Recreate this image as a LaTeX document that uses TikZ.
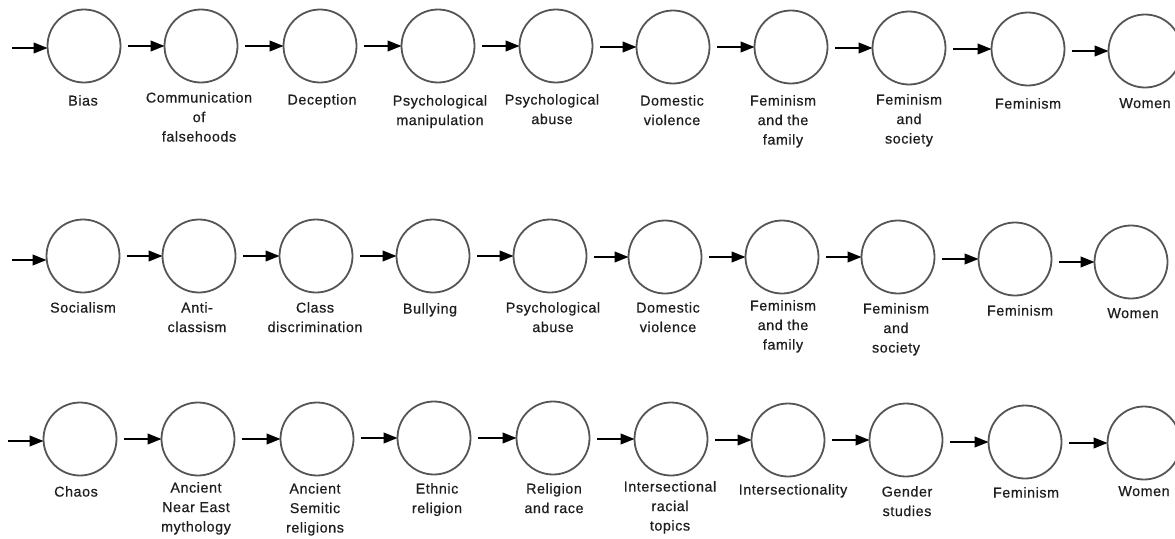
\documentclass[tikz,border=0pt]{standalone}
\usepackage{fontspec}
\setmainfont{Liberation Sans}
\usetikzlibrary{arrows.meta}
\definecolor{ringgray}{HTML}{555555}
\definecolor{txtgray}{HTML}{1E1E1E}
\tikzset{
  ring/.style={circle, draw=ringgray, line width=1.8pt, minimum size=73pt, inner sep=0pt},
  lbl/.style={anchor=north, align=center, inner sep=0pt, text=txtgray,
    font=\fontsize{14.3pt}{19.5pt}\selectfont\addfontfeatures{LetterSpace=4,FakeBold=0.6}},
  arr/.style={draw=black, line width=2.3pt, -{Triangle[length=14pt,width=10.5pt]}, shorten >=-1pt},
}
\begin{document}
\begin{tikzpicture}[x=1pt,y=-1pt]
\useasboundingbox (0,0) rectangle (1175,538);
% row 1
\node[ring] (a1) at (84,46) {};
\node[ring] (a2) at (201,46) {};
\node[ring] (a3) at (320,46) {};
\node[ring] (a4) at (438,46) {};
\node[ring] (a5) at (556,46) {};
\node[ring] (a6) at (673,47) {};
\node[ring] (a7) at (791,47) {};
\node[ring] (a8) at (909,48) {};
\node[ring] (a9) at (1028,49) {};
\node[ring] (a10) at (1145,51) {};
\node[lbl] (la1) at (83,95) {Bias};
\node[lbl] (la2) at (199,92) {Communication\\of\\falsehoods};
\node[lbl] (la3) at (322,94) {Deception};
\node[lbl] (la4) at (440,95) {Psychological\\manipulation};
\node[lbl] (la5) at (552,94) {Psychological\\abuse};
\node[lbl] (la6) at (672,95) {Domestic\\violence};
\node[lbl] (la7) at (783,95) {Feminism\\and the\\family};
\node[lbl] (la8) at (909,94) {Feminism\\and\\society};
\node[lbl] (la9) at (1028,98) {Feminism};
\node[lbl] (la10) at (1145,98) {Women};
\coordinate (sa) at (12,48);
% row 2
\node[ring] (b1) at (83,256) {};
\node[ring] (b2) at (199,256) {};
\node[ring] (b3) at (316,256) {};
\node[ring] (b4) at (433,256) {};
\node[ring] (b5) at (550,256) {};
\node[ring] (b6) at (665,257) {};
\node[ring] (b7) at (782,257) {};
\node[ring] (b8) at (898,257) {};
\node[ring] (b9) at (1015,259) {};
\node[ring] (b10) at (1131,262) {};
\node[lbl] (lb1) at (83,302) {Socialism};
\node[lbl] (lb2) at (197,302) {Anti-\\classism};
\node[lbl] (lb3) at (315,302) {Class\\discrimination};
\node[lbl] (lb4) at (430,303) {Bullying};
\node[lbl] (lb5) at (553,302) {Psychological\\abuse};
\node[lbl] (lb6) at (668,302) {Domestic\\violence};
\node[lbl] (lb7) at (783,300) {Feminism\\and the\\family};
\node[lbl] (lb8) at (896,303) {Feminism\\and\\society};
\node[lbl] (lb9) at (1020,305) {Feminism};
\node[lbl] (lb10) at (1133,308) {Women};
\coordinate (sb) at (12,260);
% row 3
\node[ring] (c1) at (80,439) {};
\node[ring] (c2) at (198,439) {};
\node[ring] (c3) at (317,439) {};
\node[ring] (c4) at (434,438) {};
\node[ring] (c5) at (553,438) {};
\node[ring] (c6) at (671,439) {};
\node[ring] (c7) at (788,440) {};
\node[ring] (c8) at (906,440) {};
\node[ring] (c9) at (1025,442) {};
\node[ring] (c10) at (1144,443) {};
\node[lbl] (lc1) at (76,486) {Chaos};
\node[lbl] (lc2) at (196,482) {Ancient\\Near East\\mythology};
\node[lbl] (lc3) at (315,483) {Ancient\\Semitic\\religions};
\node[lbl] (lc4) at (437,483) {Ethnic\\religion};
\node[lbl] (lc5) at (554,483) {Religion\\and race};
\node[lbl] (lc6) at (670,481) {Intersectional\\racial\\topics};
\node[lbl] (lc7) at (793,484) {Intersectionality};
\node[lbl] (lc8) at (907,486) {Gender\\studies};
\node[lbl] (lc9) at (1026,487) {Feminism};
\node[lbl] (lc10) at (1144,486) {Women};
\coordinate (sc) at (8,441);
% arrows
\draw[arr] (sa) -- (sa -| a1.west);
\draw[arr] (sb) -- (sb -| b1.west);
\draw[arr] (sc) -- (sc -| c1.west);
\foreach \r in {a,b,c}{
  \foreach \i [evaluate=\i as \j using int(\i+1)] in {1,...,9}{
    \draw[arr] ([xshift=7pt]\r\i.east |- \r\j.west) -- (\r\j.west);
  }
}
\end{tikzpicture}
\end{document}
